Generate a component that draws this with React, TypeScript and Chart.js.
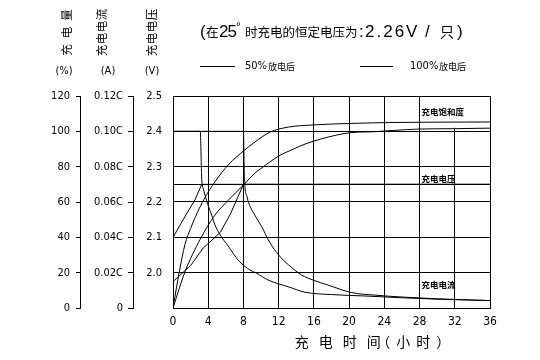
import React, { useEffect, useRef } from 'react';
import { Chart, registerables } from 'chart.js';
Chart.register(...registerables);

// ---- ticks ----
const xTicks = [0, 4, 8, 12, 16, 20, 24, 28, 32, 36];
const xTickLabels = ['0', '4', '8', '12', '16', '20', '24', '28', '32', '36'];
const pctTicks = [0, 20, 40, 60, 80, 100, 120];
const pctTickLabels = ['0', '20', '40', '60', '80', '100', '120'];
const ampTicks = [0, 0.02, 0.04, 0.06, 0.08, 0.1, 0.12];
const ampTickLabels = ['0', '0.02C', '0.04C', '0.06C', '0.08C', '0.10C', '0.12C'];
const voltTicks = [1.9, 2.0, 2.1, 2.2, 2.25, 2.3, 2.4, 2.5];
const voltTickLabels = ['', '2.0', '2.1', '2.2', '', '2.3', '2.4', '2.5'];

// ---- series: charged capacity (%) ----
const cap50Hours = [0, 0.7, 1.36, 2, 2.5, 3, 3.63, 4.77, 6.28, 8.17, 9.31, 11, 13.1, 15.9, 20.3, 25, 30, 36];
const cap50Values = [0, 20, 36, 45, 51, 56.5, 62.5, 71.5, 81, 89.6, 94, 99.5, 102.4, 103.6, 104.5, 105, 105.2, 105.3];
const cap100Hours = [0, 1.36, 3.1, 4.77, 6.28, 8, 9.31, 10, 12, 13.7, 15, 16.9, 20.1, 22.9, 25, 28, 32, 36];
const cap100Values = [0, 20.5, 39, 52.6, 61, 69.6, 76.4, 79, 86, 90, 92.8, 95.8, 99.2, 99.8, 100.5, 101.3, 101.5, 101.8];

// ---- series: charging voltage (V) ----
const volt50Hours = [0, 1.5, 2.5, 3.26, 36];
const volt50Values = [2.1, 2.165, 2.206, 2.25, 2.25];
const volt100Hours = [0, 2, 3.44, 5.34, 6.5, 8, 36];
const volt100Values = [1.975, 2.02, 2.07, 2.113, 2.165, 2.25, 2.25];

// ---- series: charging current (C) ----
const cur50Hours = [0, 3.1, 3.17, 3.24, 3.3, 3.44, 3.63, 4, 4.39, 4.77, 5.34, 6.28, 7.42, 8.74, 9.5, 10.82, 13.1, 15, 18, 21.8, 26, 30, 36];
const cur50Values = [0.1, 0.1, 0.09, 0.076, 0.0705, 0.0675, 0.064, 0.058, 0.0526, 0.047, 0.0415, 0.035, 0.027, 0.0215, 0.0197, 0.0158, 0.012, 0.0089, 0.0076, 0.0068, 0.0058, 0.005, 0.0042];
const cur100Hours = [0, 8, 8.04, 8.08, 8.14, 8.4, 8.8, 9.3, 10.07, 11, 12, 13.1, 14.6, 15.9, 17.6, 20.3, 22.9, 26, 30, 36];
const cur100Values = [0.1, 0.1, 0.092, 0.08, 0.071, 0.063, 0.057, 0.0525, 0.046, 0.037, 0.03, 0.0245, 0.0187, 0.0158, 0.013, 0.0087, 0.0073, 0.0062, 0.0052, 0.0042];

const NARROW = '"Liberation Sans Narrow", "DejaVu Sans Condensed", "Liberation Sans", sans-serif';
const LATIN = '"Liberation Sans", "DejaVu Sans", sans-serif';
const CJK = '"Noto Sans CJK SC", sans-serif';

const pts = (xs: number[], ys: number[]) => xs.map((x, i) => ({ x, y: ys[i] }));

function spacedText(ctx: CanvasRenderingContext2D, text: string, x: number, y: number, font: string, spacing: number) {
  ctx.save();
  ctx.font = font;
  (ctx as any).letterSpacing = `${spacing}px`;
  ctx.textAlign = 'left';
  ctx.textBaseline = 'middle';
  ctx.fillText(text, x, y);
  ctx.restore();
}

function vText(ctx: CanvasRenderingContext2D, text: string, cx: number, cy: number, size: number, spacing: number) {
  ctx.save();
  ctx.translate(cx, cy);
  ctx.rotate(-Math.PI / 2);
  ctx.font = `${size}px ${CJK}`;
  const w = ctx.measureText(text).width + spacing * (text.length - 1);
  (ctx as any).letterSpacing = `${spacing}px`;
  ctx.textAlign = 'left';
  ctx.textBaseline = 'middle';
  ctx.fillText(text, -w / 2, 0);
  ctx.restore();
}

const decor = {
  id: 'decor',
  beforeDatasetsDraw(chart: any) {
    const ctx: CanvasRenderingContext2D = chart.ctx;
    const xs = chart.scales.x;
    const yv = chart.scales.yV;
    ctx.save();
    ctx.fillStyle = '#fff';
    const l = xs.getPixelForValue(28) + 1;
    const r = xs.getPixelForValue(36) - 1;
    const t = yv.getPixelForValue(2.5) + 1;
    const b = yv.getPixelForValue(2.41);
    ctx.fillRect(l, t, r - l, b - t);
    ctx.fillStyle = '#000';
    ctx.textAlign = 'left';
    ctx.textBaseline = 'middle';
    ctx.font = `bold 8.5px ${CJK}`;
    ctx.fillText('充电饱和度', l + 1, 111.5);
    ctx.fillText('充电电压', l + 1, 179);
    ctx.fillText('充电电流', l + 1, 285);
    ctx.restore();
  },
  afterDraw(chart: any) {
    const ctx: CanvasRenderingContext2D = chart.ctx;
    ctx.save();
    ctx.fillStyle = '#000';
    ctx.strokeStyle = '#000';
    // title
    const cy = 32;
    spacedText(ctx, '(', 200, cy, `17px ${LATIN}`, 0);
    spacedText(ctx, '在', 206, cy, `12.5px ${CJK}`, 0);
    spacedText(ctx, '25', 219, cy, `17px ${LATIN}`, -1);
    spacedText(ctx, '°', 236, cy - 4, `12px ${LATIN}`, 0);
    spacedText(ctx, '时充电的恒定电压为', 245, cy, `12.5px ${CJK}`, 0);
    spacedText(ctx, ':', 359, cy, `17px ${LATIN}`, 0);
    spacedText(ctx, '2.26V', 365, cy, `17px ${LATIN}`, 2);
    spacedText(ctx, '/', 425, cy, `17px ${LATIN}`, 0);
    spacedText(ctx, '只', 440, cy, `14px ${CJK}`, 0);
    spacedText(ctx, ')', 457, cy, `17px ${LATIN}`, 0);

    // legend
    ctx.lineWidth = 1;
    ctx.beginPath();
    ctx.moveTo(200, 66.5); ctx.lineTo(235, 66.5);
    ctx.moveTo(360, 66.5); ctx.lineTo(393, 66.5);
    ctx.stroke();
    spacedText(ctx, '50%', 245, 66.5, `11px ${NARROW}`, 0);
    spacedText(ctx, '放电后', 268, 66.5, `9px ${CJK}`, 0);
    spacedText(ctx, '100%', 410, 66.5, `11px ${NARROW}`, 0);
    spacedText(ctx, '放电后', 439, 66.5, `9px ${CJK}`, 0);

    // axis headers
    vText(ctx, '充电量', 67, 32.5, 11.5, 6);
    vText(ctx, '充电电流', 102, 32.5, 11.5, 0.5);
    vText(ctx, '充电电压', 152, 32.5, 11.5, 0.5);
    ctx.font = `11px ${NARROW}`;
    ctx.textAlign = 'center';
    ctx.textBaseline = 'middle';
    ctx.fillText('(%)', 64, 71.5);
    ctx.fillText('(A)', 108, 71.5);
    ctx.fillText('(V)', 152, 71.5);

    // x title
    spacedText(ctx, '充电时间', 294.7, 341.7, `14px ${CJK}`, 10);
    spacedText(ctx, '（小时）', 376.3, 341.7, `14px ${CJK}`, 6);
    ctx.restore();
  },
};

const tickFont = { family: NARROW, size: 11 };

export default function App() {
  const ref = useRef<HTMLCanvasElement>(null);
  useEffect(() => {
    if (!ref.current) return;
    const line = (data: any, yAxisID: string, mono: boolean) => ({
      data,
      yAxisID,
      xAxisID: 'x',
      borderColor: '#000',
      backgroundColor: '#000',
      borderWidth: 1,
      pointRadius: 0,
      fill: false,
      cubicInterpolationMode: mono ? 'monotone' : 'default',
      tension: 0,
    });
    const chart = new Chart(ref.current, {
      type: 'line',
      data: {
        datasets: [
          line(pts(cap50Hours, cap50Values), 'yP', true),
          line(pts(cap100Hours, cap100Values), 'yP', true),
          line(pts(volt50Hours, volt50Values), 'yV', false),
          line(pts(volt100Hours, volt100Values), 'yV', false),
          line(pts(cur50Hours, cur50Values), 'yC', true),
          line(pts(cur100Hours, cur100Values), 'yC', true),
        ] as any,
      },
      options: {
        animation: false,
        responsive: false,
        devicePixelRatio: 1,
        layout: { padding: { left: 30, right: 50, top: 96, bottom: 28 } },
        plugins: { legend: { display: false }, tooltip: { enabled: false }, title: { display: false } },
        scales: {
          x: {
            type: 'linear',
            min: 0,
            max: 36,
            afterBuildTicks: (s: any) => { s.ticks = xTicks.map((v) => ({ value: v })); },
            afterFit: (s: any) => { s.height = 24; },
            ticks: { autoSkip: false, maxRotation: 0, padding: 7, color: '#000', font: { family: NARROW, size: 12 }, callback: (_v: any, i: number) => xTickLabels[i] },
            grid: { color: '#000', lineWidth: 1, drawTicks: false },
            border: { display: true, color: '#000', width: 1 },
          },
          yV: {
            type: 'linear',
            position: 'left',
            weight: 0,
            min: 1.9,
            max: 2.5,
            afterBuildTicks: (s: any) => { s.ticks = voltTicks.map((v) => ({ value: v })); },
            afterFit: (s: any) => { s.width = 40; },
            ticks: { autoSkip: false, padding: 11, color: '#000', font: tickFont, callback: (_v: any, i: number) => voltTickLabels[i] },
            grid: { color: '#000', lineWidth: 1, drawTicks: false },
            border: { display: true, color: '#000', width: 1 },
          },
          yC: {
            type: 'linear',
            position: 'left',
            weight: 1,
            min: 0,
            max: 0.12,
            afterBuildTicks: (s: any) => { s.ticks = ampTicks.map((v) => ({ value: v })); },
            afterFit: (s: any) => { s.width = 53; },
            ticks: { autoSkip: false, padding: 5, color: '#000', font: tickFont, callback: (_v: any, i: number) => ampTickLabels[i] },
            grid: { drawOnChartArea: false, drawTicks: true, tickLength: 5, color: '#000', lineWidth: 1 },
            border: { display: true, color: '#000', width: 1 },
          },
          yP: {
            type: 'linear',
            position: 'left',
            weight: 2,
            min: 0,
            max: 120,
            afterBuildTicks: (s: any) => { s.ticks = pctTicks.map((v) => ({ value: v })); },
            afterFit: (s: any) => { s.width = 50; },
            ticks: { autoSkip: false, padding: 6, color: '#000', font: tickFont, callback: (_v: any, i: number) => pctTickLabels[i] },
            grid: { drawOnChartArea: false, drawTicks: true, tickLength: 4, color: '#000', lineWidth: 1 },
            border: { display: true, color: '#000', width: 1 },
          },
        },
      } as any,
      plugins: [decor],
    });
    return () => chart.destroy();
  }, []);
  return (
    <div style={{ position: 'fixed', left: 0, top: 0, width: 540, height: 360, background: '#fff' }}>
      <canvas ref={ref} width={540} height={360} style={{ width: 540, height: 360, display: 'block' }} />
    </div>
  );
}
